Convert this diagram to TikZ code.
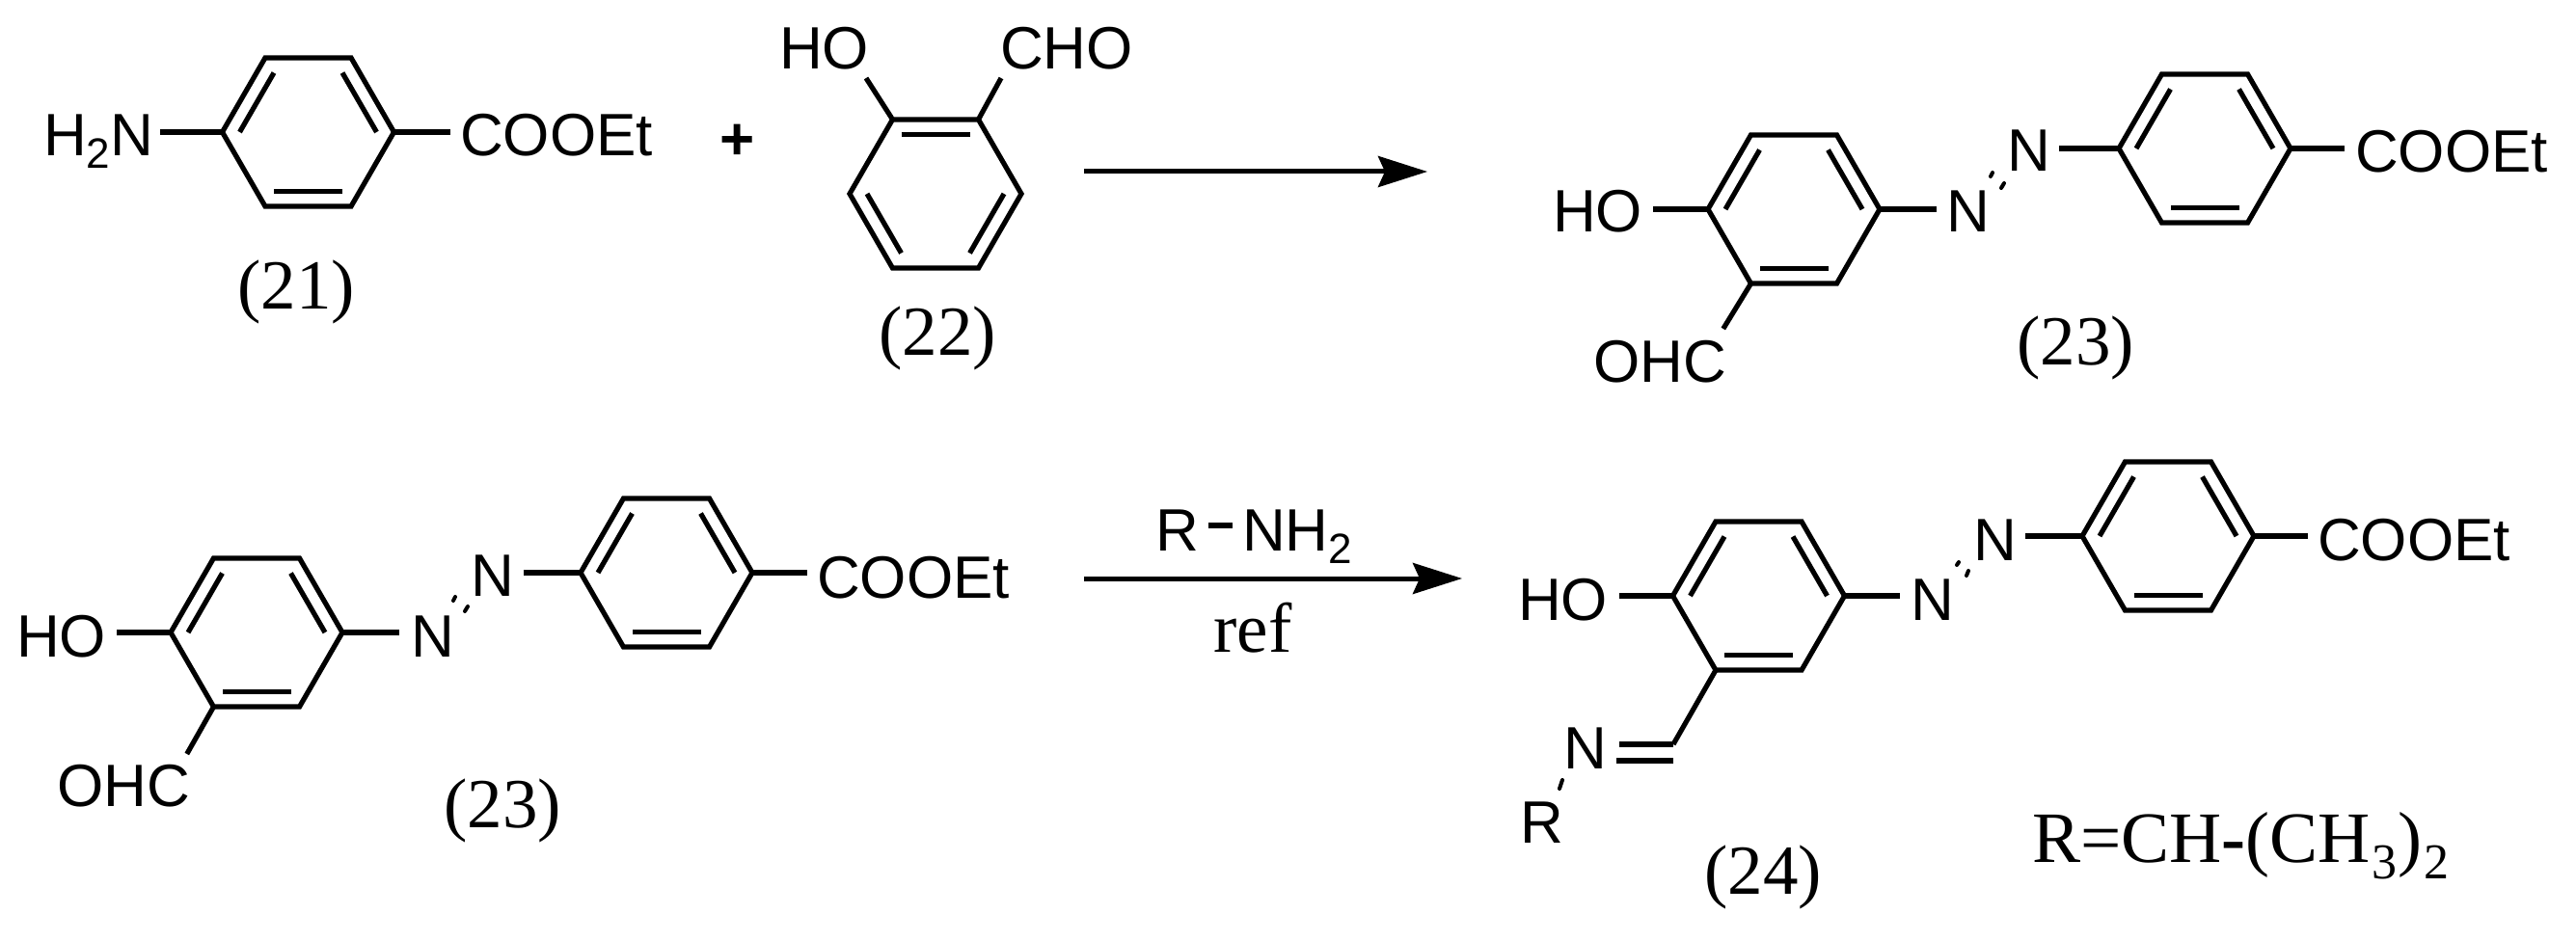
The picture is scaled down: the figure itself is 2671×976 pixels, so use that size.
\documentclass[tikz,border=0pt]{standalone}
\usepackage{fontspec}
\usetikzlibrary{arrows.meta,calc}
\setmainfont{Liberation Serif}
\newfontfamily\arialfam{Liberation Sans}
\newcommand\sansub[1]{\raisebox{-13pt}{\fontsize{44}{44}\selectfont #1}}
\newcommand\sersub[1]{\raisebox{-17pt}{\fontsize{52}{52}\selectfont #1}}
\tikzset{
  bond/.style={line width=5.2pt,line cap=butt,line join=miter},
  hashbond/.style={line width=4pt,line cap=round},
  atom/.style={inner sep=0pt,outer sep=0pt,anchor=base west,font=\arialfam\fontsize{62}{70}\selectfont},
  caplabel/.style={inner sep=0pt,outer sep=0pt,anchor=base,font=\fontsize{73}{80}\selectfont},
  rxn/.style={line width=5pt,-{Stealth[length=51pt,width=32pt,inset=7pt]}}
}
\newcommand\ringat[3]{%
  \foreach \i in {1,...,6}{
    \coordinate (#1-\i) at ({#2+89*cos(60*(\i-1))},{#3+89*sin(60*(\i-1))});
    \coordinate (#1-i\i) at ({#2+71*cos(60*(\i-1))},{#3+71*sin(60*(\i-1))});
  }
  \draw[bond] (#1-1)--(#1-2)--(#1-3)--(#1-4)--(#1-5)--(#1-6)--cycle;
}
\newcommand\dbl[3]{\draw[bond] (#1-i#2)--(#1-i#3);}
\newcommand\stdring[3]{\ringat{#1}{#2}{#3}\dbl{#1}{4}{5}\dbl{#1}{6}{1}\dbl{#1}{2}{3}}
\begin{document}
\begin{tikzpicture}[x=1pt,y=-1pt]
\useasboundingbox (0,0) rectangle (2671,976);
% --- (21)
\stdring{a}{319.5}{137}
\node[atom] (h2n) at (45,162) {H\sansub{2}N};
\node[atom] (c21) at (477,162) {COOEt};
\draw[bond,shorten <=7pt] (h2n.base east |- a-4) -- (a-4);
\draw[bond,shorten >=10pt] (a-1) -- (c21.base west |- a-1);
\node[caplabel] (l21) at (307,320) {(21)};
\node[atom] (plus) at (746,166) {\bfseries +};
% --- (22)
\ringat{b}{970}{201}
\dbl{b}{5}{6}\dbl{b}{3}{4}\dbl{b}{1}{2}
\node[atom] (ho22) at (808,72) {HO};
\node[atom] (cho22) at (1037,72) {CHO};
\draw[bond] ([shift={(-3,9)}]ho22.base east) -- (b-5);
\draw[bond] ([shift={(1,9)}]cho22.base west) -- (b-6);
\node[caplabel] (l22) at (972,368) {(22)};
% --- arrow 1
\coordinate (ar1a) at (1124,178);
\coordinate (ar1b) at (1480,178);
\draw[rxn] (ar1a) -- (ar1b);
% --- (23) top
\stdring{c}{1860}{217}
\stdring{d}{2286}{154}
\node[atom] (ho23) at (1610,241) {HO};
\node[atom] (n23a) at (2018,241) {N};
\node[atom] (n23b) at (2081,178) {N};
\node[atom] (c23) at (2442,179) {COOEt};
\node[atom] (ohc23) at (1652,396) {OHC};
\draw[bond,shorten <=11pt] (ho23.base east |- c-4) -- (c-4);
\draw[bond,shorten >=10pt] (c-1) -- (n23a.base west |- c-1);
\draw[bond,shorten <=9pt] (n23b.base east |- d-4) -- (d-4);
\draw[bond,shorten >=11pt] (d-1) -- (c23.base west |- d-1);
\draw[bond] (c-3) -- ([shift={(-3,-55)}]ohc23.base east);
\coordinate (e1a) at (2066,179); \coordinate (e1b) at (2064,183);
\coordinate (e2a) at (2078,190); \coordinate (e2b) at (2075,195);
\draw[hashbond] (e1a) -- (e1b);
\draw[hashbond] (e2a) -- (e2b);
\node[caplabel] (l23a) at (2152,378) {(23)};
% --- (23) bottom
\stdring{e}{266}{656}
\stdring{f}{691}{594}
\node[atom] (ho23b) at (17,681) {HO};
\node[atom] (n23c) at (426,681) {N};
\node[atom] (n23d) at (488,618) {N};
\node[atom] (c23b) at (847,620) {COOEt};
\node[atom] (ohc23b) at (59,836) {OHC};
\draw[bond,shorten <=11pt] (ho23b.base east |- e-4) -- (e-4);
\draw[bond,shorten >=12pt] (e-1) -- (n23c.base west |- e-1);
\draw[bond,shorten <=10pt] (n23d.base east |- f-4) -- (f-4);
\draw[bond,shorten >=10pt] (f-1) -- (c23b.base west |- f-1);
\draw[bond] (e-3) -- ([shift={(-3,-54)}]ohc23b.base east);
\coordinate (g1a) at (472,619); \coordinate (g1b) at (470,623);
\coordinate (g2a) at (485,629); \coordinate (g2b) at (482,634);
\draw[hashbond] (g1a) -- (g1b);
\draw[hashbond] (g2a) -- (g2b);
\node[caplabel] (l23b) at (521,858) {(23)};
% --- arrow 2
\coordinate (ar2a) at (1124,600);
\coordinate (ar2b) at (1516,600);
\draw[rxn] (ar2a) -- (ar2b);
\node[atom] (rr) at (1198,571) {R};
\node[atom] (nh2) at (1288,571) {NH\sansub{2}};
\draw[bond] ([shift={(10,-26)}]rr.base east) -- ([shift={(-10,-26)}]nh2.base west);
\node[caplabel] (ref) at (1299,676) {ref};
% --- (24)
\stdring{g}{1823.5}{618}
\stdring{h}{2248}{556}
\node[atom] (ho24) at (1574,643) {HO};
\node[atom] (n24a) at (1981,643) {N};
\node[atom] (n24b) at (2046,581) {N};
\node[atom] (c24) at (2403,581) {COOEt};
\node[atom] (n24c) at (1621,797) {N};
\node[atom] (r24) at (1576,874) {R};
\draw[bond,shorten <=12pt] (ho24.base east |- g-4) -- (g-4);
\draw[bond,shorten >=11pt] (g-1) -- (n24a.base west |- g-1);
\draw[bond,shorten <=9pt] (n24b.base east |- h-4) -- (h-4);
\draw[bond,shorten >=10pt] (h-1) -- (c24.base west |- h-1);
\coordinate (ch) at (1735,772);
\coordinate (ch2) at (1735,789);
\draw[bond] (g-3) -- (ch);
\draw[bond,shorten >=13pt] (ch) -- (n24c.base east |- ch);
\draw[bond,shorten >=10pt] (ch2) -- (n24c.base east |- ch2);
\coordinate (k1a) at (1620,809); \coordinate (k1b) at (1617,818);
\draw[hashbond] (k1a) -- (k1b);
\coordinate (m1a) at (2031,583); \coordinate (m1b) at (2029,586);
\coordinate (m2a) at (2041,592); \coordinate (m2b) at (2039,597);
\draw[hashbond] (m1a) -- (m1b);
\draw[hashbond] (m2a) -- (m2b);
\node[caplabel] (l24) at (1828,927) {(24)};
\node[caplabel,anchor=base west,font=\fontsize{75}{80}\selectfont] (rdef) at (2107,894) {R=CH{\bfseries -}(CH\kern2pt\sersub{3}\kern1pt)\kern2pt\sersub{2}};
\end{tikzpicture}
\end{document}
